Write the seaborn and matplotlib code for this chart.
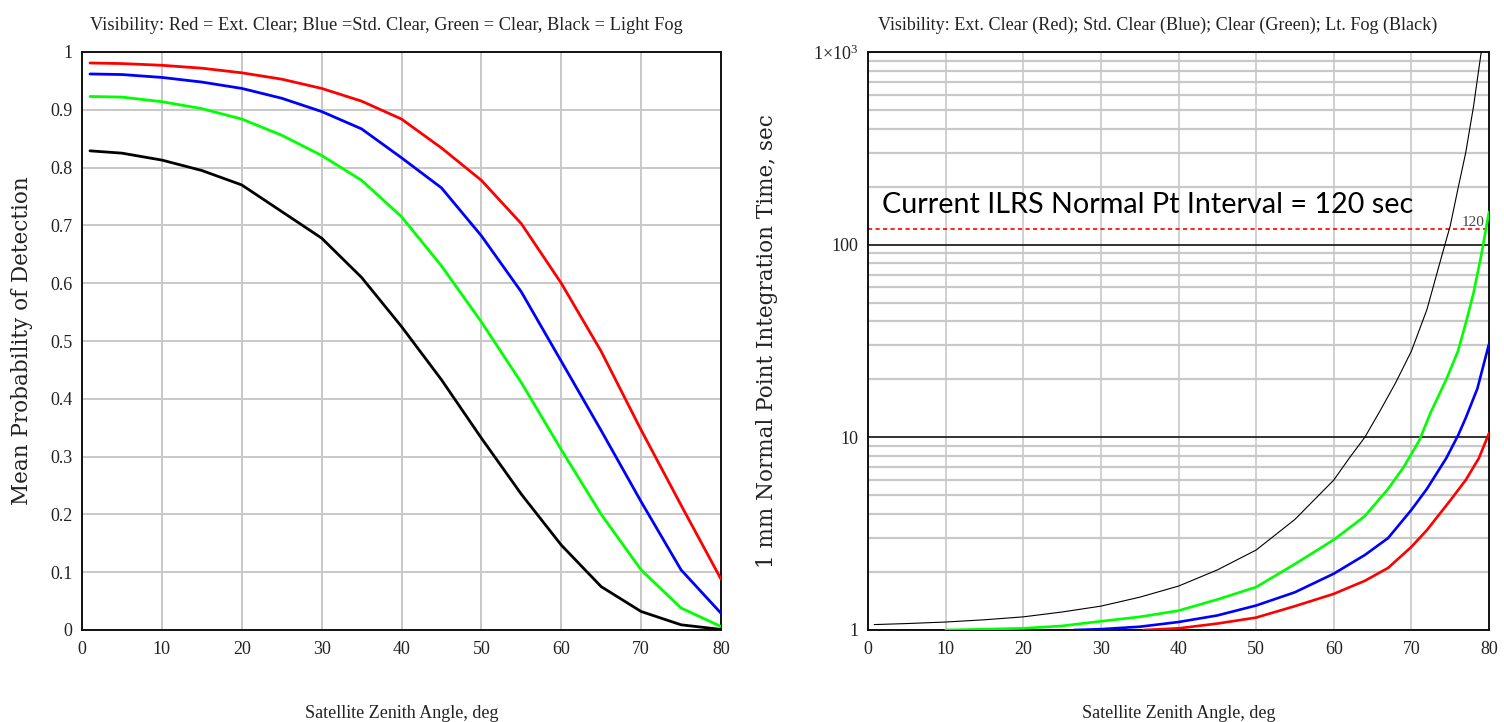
import numpy as np
import pandas as pd
import matplotlib
matplotlib.use("Agg")
import matplotlib.pyplot as plt
import seaborn as sns
from matplotlib.ticker import FixedLocator, FixedFormatter, NullFormatter

# ---------------- data ----------------
# Left panel: mean probability of detection vs satellite zenith angle
zen_left = [1, 5, 10, 15, 20, 25, 30, 35, 40, 45, 50, 55, 60, 65, 70, 75, 80]
pd_red   = [0.981, 0.980, 0.977, 0.972, 0.964, 0.953, 0.937, 0.915, 0.884, 0.834,
            0.778, 0.703, 0.600, 0.482, 0.346, 0.216, 0.088]
pd_blue  = [0.962, 0.961, 0.956, 0.948, 0.937, 0.920, 0.897, 0.867, 0.817, 0.765,
            0.682, 0.585, 0.465, 0.345, 0.222, 0.104, 0.029]
pd_green = [0.923, 0.922, 0.914, 0.902, 0.884, 0.856, 0.821, 0.778, 0.715, 0.630,
            0.533, 0.428, 0.312, 0.200, 0.104, 0.038, 0.006]
pd_black = [0.829, 0.825, 0.813, 0.795, 0.770, 0.724, 0.678, 0.610, 0.525, 0.433,
            0.332, 0.235, 0.147, 0.075, 0.032, 0.009, 0.001]

# Right panel: 1 mm normal point integration time (sec)
zen_black = [0.8, 5, 10, 15, 20, 25, 30, 35, 40, 45, 50, 55, 60, 62, 64, 66, 68,
             70, 72, 74, 75, 76, 77, 78, 79]
t_black   = [1.067, 1.08, 1.10, 1.13, 1.17, 1.24, 1.33, 1.48, 1.69, 2.05, 2.6, 3.75,
             6.0, 7.8, 10.0, 13.8, 19.3, 28, 46, 90, 125, 195, 300, 520, 1000]
zen_green = [10, 15, 20, 25, 30, 35, 40, 45, 50, 55, 60, 64, 67, 69, 71, 72.5,
             74.5, 76, 77, 78, 79, 80]
t_green   = [1.0, 1.01, 1.02, 1.05, 1.11, 1.17, 1.26, 1.44, 1.67, 2.2, 2.94, 3.9,
             5.4, 7.0, 9.6, 13.5, 20, 28, 39, 56, 88, 148]
zen_blue  = [26.5, 30, 35, 40, 45, 50, 55, 60, 64, 67, 70, 72, 74.5, 76, 77, 78.5, 80]
t_blue    = [1.0, 1.01, 1.04, 1.10, 1.19, 1.34, 1.57, 1.96, 2.45, 3.0, 4.2, 5.4,
             7.8, 10.2, 12.6, 17.9, 30.5]
zen_red   = [35.5, 40, 45, 50, 55, 60, 64, 67, 70, 72, 75, 77, 78.7, 80]
t_red     = [1.0, 1.02, 1.08, 1.16, 1.33, 1.54, 1.80, 2.1, 2.7, 3.3, 4.7, 6.0, 7.8, 10.5]

ilrs_interval = 120

x_ticks = [0, 10, 20, 30, 40, 50, 60, 70, 80]
left_yticks = [0, 0.1, 0.2, 0.3, 0.4, 0.5, 0.6, 0.7, 0.8, 0.9, 1.0]
left_ylabels = ["0", "0.1", "0.2", "0.3", "0.4", "0.5", "0.6", "0.7", "0.8", "0.9", "1"]
right_yticks = [1, 10, 100, 1000]
right_ylabels = ["1", "10", "100", r"1$\times$10$^{3}$"]

title_left = "Visibility: Red = Ext. Clear; Blue =Std. Clear, Green = Clear, Black = Light Fog"
title_right = "Visibility: Ext. Clear (Red); Std. Clear (Blue); Clear (Green); Lt. Fog (Black)"
xlabel = "Satellite Zenith Angle, deg"
ylabel_left = "Mean Probability of Detection"
ylabel_right = "1 mm Normal Point Integration Time, sec"
note = "Current ILRS Normal Pt Interval = 120 sec"

# ---------------- styling ----------------
sns.set_style("white")
plt.rcParams["font.family"] = ["Liberation Serif", "DejaVu Serif"]
plt.rcParams["mathtext.fontset"] = "custom"
plt.rcParams["mathtext.rm"] = "Liberation Serif"
plt.rcParams["mathtext.it"] = "Liberation Serif"

W, H = 1504, 722
fig = plt.figure(figsize=(W / 100, H / 100), dpi=100)
fig.patch.set_facecolor("white")

def ax_rect(x0, x1, y0, y1):
    return [x0 / W, 1 - y1 / H, (x1 - x0) / W, (y1 - y0) / H]

axL = fig.add_axes(ax_rect(82, 721, 52, 630))
axR = fig.add_axes(ax_rect(868, 1489, 52, 630))

grid_col = "#c8c8c8"
tick_fs = 13

# ---------- left panel ----------
series_left = [(pd_red, "#ff0000"), (pd_blue, "#0000ff"), (pd_green, "#00ff00"), (pd_black, "#000000")]
for vals, col in series_left:
    df = pd.DataFrame({"zen": zen_left, "p": vals})
    sns.lineplot(data=df, x="zen", y="p", color=col, lw=2.0, ax=axL,
                 estimator=None, sort=False, zorder=3)
axL.set_xlim(0, 80)
axL.set_ylim(0, 1)
axL.set_xticks(x_ticks)
axL.set_xticklabels([str(v) for v in x_ticks])
axL.set_yticks(left_yticks)
axL.set_yticklabels(left_ylabels)
axL.grid(True, color=grid_col, lw=1.4, zorder=0)
axL.set_axisbelow(True)
axL.tick_params(axis="both", length=0, labelsize=tick_fs, colors="#222222")
axL.tick_params(axis="x", pad=8)
axL.tick_params(axis="y", pad=7)
for s in axL.spines.values():
    s.set_color("#111111")
    s.set_linewidth(1.4)
axL.set_xlabel(xlabel, fontsize=13, labelpad=34, color="#222222")
axL.set_ylabel(ylabel_left, fontsize=15.5, family="DejaVu Serif", color="#222222")
axL.yaxis.set_label_coords(-0.077, 0.5)
axL.set_title(title_left, fontsize=13.2, pad=16, color="#222222", x=0.476)

# ---------- right panel ----------
series_right = [(zen_black, t_black, "#000000", 0.8),
                (zen_green, t_green, "#00ff00", 1.9),
                (zen_blue, t_blue, "#0000ff", 1.9),
                (zen_red, t_red, "#ff0000", 1.9)]
for zx, ty, col, lw in series_right:
    df = pd.DataFrame({"zen": zx, "t": ty})
    sns.lineplot(data=df, x="zen", y="t", color=col, lw=lw, ax=axR,
                 estimator=None, sort=False, zorder=3, clip_on=True)
axR.set_yscale("log")
axR.set_xlim(0, 80)
axR.set_ylim(1, 1000)
axR.set_xticks(x_ticks)
axR.set_xticklabels([str(v) for v in x_ticks])
axR.yaxis.set_major_locator(FixedLocator(right_yticks))
axR.yaxis.set_major_formatter(FixedFormatter(right_ylabels))
minors = [m * 10 ** e for e in range(0, 3) for m in range(2, 10)]
axR.yaxis.set_minor_locator(FixedLocator(minors))
axR.yaxis.set_minor_formatter(NullFormatter())
axR.grid(True, axis="x", color=grid_col, lw=1.2, zorder=0)
axR.grid(True, axis="y", which="minor", color=grid_col, lw=1.6, zorder=0)
axR.grid(True, axis="y", which="major", color="#222222", lw=1.3, zorder=1)
axR.set_axisbelow(True)
axR.tick_params(axis="both", which="both", length=0, labelsize=tick_fs, colors="#222222")
axR.tick_params(axis="x", pad=8)
axR.tick_params(axis="y", pad=7)
for s in axR.spines.values():
    s.set_color("#111111")
    s.set_linewidth(1.4)
axR.axhline(ilrs_interval, color="#ff0000", lw=1.2, ls=(0, (2.5, 2.0)), zorder=2)
axR.text(79.4, ilrs_interval, str(ilrs_interval), ha="right", va="bottom",
         fontsize=11, color="#444444", zorder=4)
axR.text(1.8, 160, note, ha="left", va="center", fontsize=20.7,
         family=["Lato", "DejaVu Sans"], color="#000000", zorder=4)
axR.set_xlabel(xlabel, fontsize=13, labelpad=34, color="#222222")
axR.set_ylabel(ylabel_right, fontsize=15.5, family="DejaVu Serif", color="#222222")
axR.yaxis.set_label_coords(-0.145, 0.5)
axR.set_title(title_right, fontsize=13.1, pad=16, color="#222222", x=0.467)

fig.savefig("out.png", dpi=100, facecolor="white")
